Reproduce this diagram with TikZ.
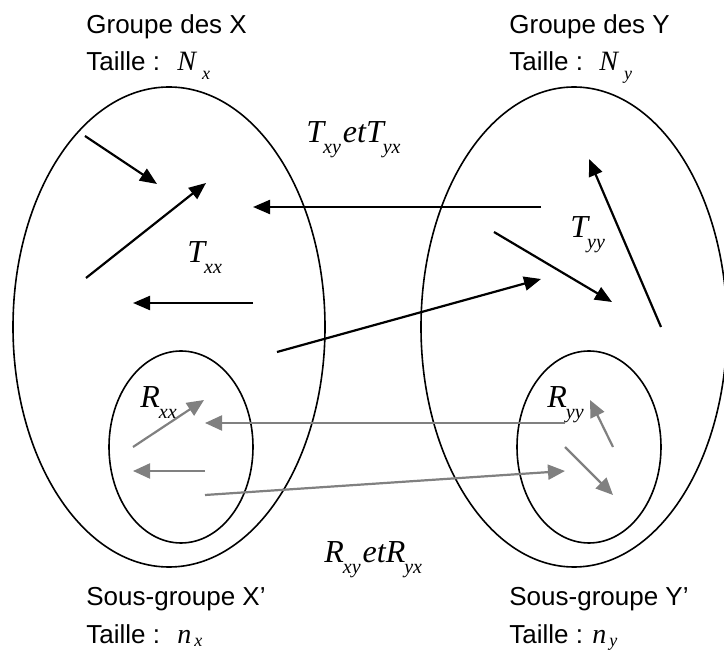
\documentclass[tikz,border=0pt]{standalone}
\usepackage{fontspec}
\setmainfont{Liberation Sans}
\newfontfamily\tnr{Liberation Serif}
\usetikzlibrary{arrows.meta,shapes.geometric}
\definecolor{grayarr}{HTML}{808080}
% #1 letter, #2 size, #3 subscript, #4 sub size, #5 kern, #6 drop
\newcommand\mth[6]{{\tnr\itshape\fontsize{#2}{#2}\selectfont #1}\kern#5\raisebox{-#6}{\tnr\itshape\fontsize{#4}{#4}\selectfont #3}}
\newcommand\ettxt{\kern1pt{\tnr\itshape\fontsize{16pt}{16pt}\selectfont et}}
\begin{document}
\begin{tikzpicture}[x=0.5pt,y=-0.5pt,
  lbl/.style={inner sep=0pt, anchor=base west, font=\fontsize{13pt}{15pt}\selectfont},
  mlbl/.style={inner sep=0pt, anchor=base west},
  ell/.style={draw, ellipse, line width=0.8pt, inner sep=0pt},
  blk/.style={line width=1.1pt, -{Triangle[length=8.5pt,width=7pt]}},
  gry/.style={draw=grayarr, line width=1.1pt, -{Triangle[length=8.5pt,width=7.5pt]}, grayarr}]
\useasboundingbox (0,0) rectangle (724,652);

% ellipses
\node[ell, minimum width=156pt, minimum height=240pt] (GX) at (169,327) {};
\node[ell, minimum width=153pt, minimum height=240pt] (GY) at (574,327) {};
\node[ell, minimum width=72pt, minimum height=96pt] (SX) at (181,447) {};
\node[ell, minimum width=72pt, minimum height=96pt] (SY) at (589,447) {};

% top labels
\node[lbl] (gxt) at (86,34) {Groupe des X};
\node[lbl] (gxs) at (86,71) {Taille :};
\node[mlbl] (NX) at (177,71) {\mth{N}{14pt}{x}{9pt}{3pt}{4.5pt}};
\node[lbl] (gyt) at (509,34) {Groupe des Y};
\node[lbl] (gys) at (509,71) {Taille :};
\node[mlbl] (NY) at (599,71) {\mth{N}{14pt}{y}{9pt}{3pt}{4.5pt}};

% bottom labels
\node[lbl] (sxt) at (86,605) {Sous-groupe X’};
\node[lbl] (sxs) at (86,644) {Taille :};
\node[mlbl] (nx) at (177,644) {\mth{n}{14pt}{x}{9pt}{1.5pt}{1.5pt}};
\node[lbl] (syt) at (509,605) {Sous-groupe Y’};
\node[lbl] (sys) at (509,644) {Taille :};
\node[mlbl] (ny) at (592,644) {\mth{n}{14pt}{y}{9pt}{1.5pt}{1.5pt}};

% flow labels
\node[mlbl] (Txyyx) at (306,143) {\mth{T}{16pt}{xy}{10pt}{-0.5pt}{5.5pt}\ettxt\mth{T}{16pt}{yx}{10pt}{-0.5pt}{5.5pt}};
\node[mlbl] (Txx) at (187,263) {\mth{T}{16pt}{xx}{10pt}{-0.5pt}{5.5pt}};
\node[mlbl] (Tyy) at (570,238) {\mth{T}{16pt}{yy}{10pt}{-0.5pt}{5.5pt}};
\node[mlbl] (Rxx) at (140,408) {\mth{R}{16pt}{xx}{10pt}{-0.5pt}{5.5pt}};
\node[mlbl] (Ryy) at (547,408) {\mth{R}{16pt}{yy}{10pt}{-0.5pt}{5.5pt}};
\node[mlbl] (Rxyyx) at (324,563) {\mth{R}{16pt}{xy}{10pt}{-0.5pt}{5.5pt}\ettxt\mth{R}{16pt}{yx}{10pt}{-0.5pt}{5.5pt}};

% black arrow end points
\coordinate (a1s) at (85,136);  \coordinate (a1e) at (157,184);
\coordinate (a2s) at (86,278);  \coordinate (a2e) at (206,183);
\coordinate (a3s) at (253,303); \coordinate (a3e) at (133,303);
\coordinate (a4s) at (277,352); \coordinate (a4e) at (541,279);
\coordinate (a5s) at (541,207); \coordinate (a5e) at (253,207);
\coordinate (a6s) at (494,232); \coordinate (a6e) at (612,302);
\coordinate (a7s) at (661,327); \coordinate (a7e) at (589,159);

\draw[blk] (a1s) -- (a1e);
\draw[blk] (a2s) -- (a2e);
\draw[blk] (a3s) -- (a3e);
\draw[blk] (a4s) -- (a4e);
\draw[blk] (a5s) -- (a5e);
\draw[blk] (a6s) -- (a6e);
\draw[blk] (a7s) -- (a7e);

% gray arrow end points
\coordinate (g1s) at (133,447); \coordinate (g1e) at (204,400);
\coordinate (g2s) at (565,423); \coordinate (g2e) at (205,423);
\coordinate (g3s) at (205,471); \coordinate (g3e) at (133,471);
\coordinate (g4s) at (205,495); \coordinate (g4e) at (565,471);
\coordinate (g5s) at (613,447); \coordinate (g5e) at (590,400);
\coordinate (g6s) at (565,447); \coordinate (g6e) at (613,495);

\draw[gry] (g1s) -- (g1e);
\draw[gry] (g2s) -- (g2e);
\draw[gry] (g3s) -- (g3e);
\draw[gry] (g4s) -- (g4e);
\draw[gry] (g5s) -- (g5e);
\draw[gry] (g6s) -- (g6e);
\end{tikzpicture}
\end{document}
